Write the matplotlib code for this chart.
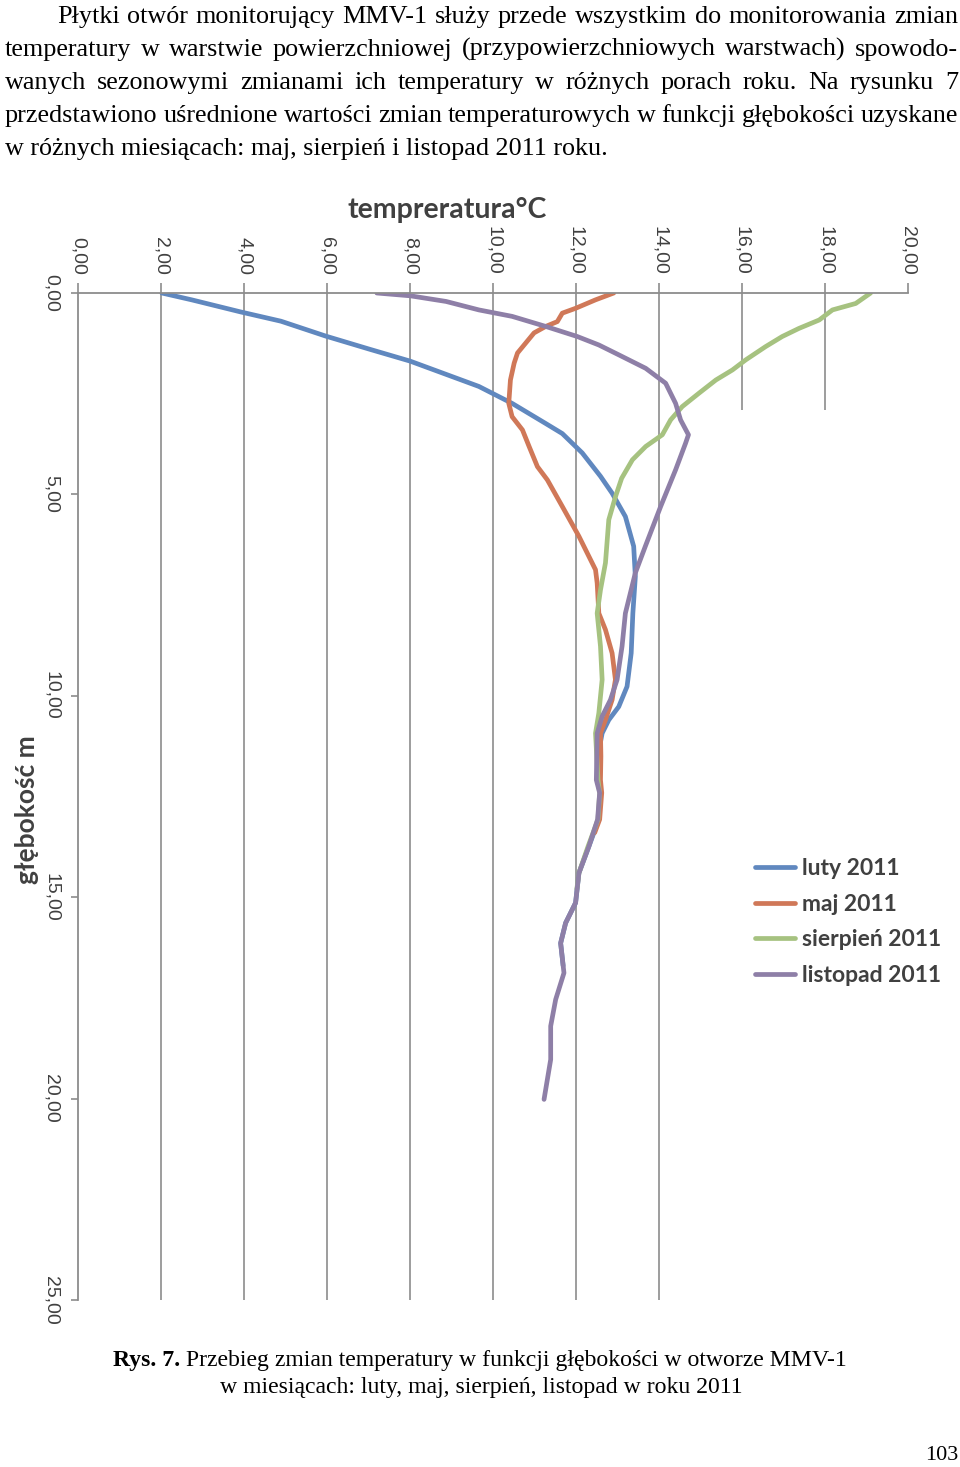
import numpy as np
import matplotlib
matplotlib.use('Agg')
import matplotlib.pyplot as plt

# depth [m] / temperature [C]
luty_depth = [0, 0.17, 0.47, 0.70, 1.07, 1.40, 1.69, 2.02, 2.32, 2.74, 3.24, 3.49, 3.97, 4.55, 4.97,
              5.55, 6.29, 7.04, 7.95, 8.94, 9.77, 10.27, 10.6, 10.93, 11.26, 12.09, 12.41, 13.07,
              13.74, 14.4, 15.14, 15.64, 16.14, 16.7]
luty_temp = [2.02, 2.74, 3.92, 4.89, 5.97, 7.04, 8.0, 8.87, 9.66, 10.46, 11.27, 11.67, 12.15, 12.59, 12.87,
             13.19, 13.39, 13.43, 13.37, 13.33, 13.23, 13.03, 12.79, 12.63, 12.57, 12.55, 12.59, 12.55,
             12.31, 12.07, 11.99, 11.75, 11.63, 11.69]

maj_depth = [0, 0.17, 0.38, 0.5, 0.71, 0.83, 0.99, 1.24, 1.49, 1.74, 2.16, 2.74, 3.07, 3.4, 3.81, 4.31,
             4.64, 5.3, 6.04, 6.87, 7.2, 7.95, 8.36, 8.94, 9.6, 10.1, 10.6, 10.93, 11.5, 12.09, 12.41,
             13.07, 13.4]
maj_temp = [12.91, 12.47, 11.99, 11.67, 11.55, 11.27, 10.99, 10.79, 10.59, 10.51, 10.42, 10.38, 10.46,
            10.71, 10.87, 11.07, 11.31, 11.67, 12.07, 12.47, 12.51, 12.55, 12.71, 12.87, 12.95, 12.87,
            12.71, 12.59, 12.6, 12.59, 12.62, 12.57, 12.45]

sierpien_depth = [0, 0.26, 0.42, 0.67, 0.88, 1.08, 1.33, 1.66, 1.91, 2.16, 2.49, 2.82, 3.15, 3.52, 3.81,
                  4.14, 4.6, 5.06, 5.63, 6.7, 7.37, 7.95, 8.77, 9.6, 10.43, 10.93, 11.5, 12.09, 12.41,
                  13.07, 13.74, 14.4, 14.8]
sierpien_temp = [19.1, 18.74, 18.18, 17.86, 17.37, 16.97, 16.57, 16.09, 15.77, 15.37, 14.96, 14.56, 14.28,
                 14.08, 13.68, 13.36, 13.1, 12.95, 12.79, 12.71, 12.59, 12.51, 12.59, 12.63, 12.55, 12.47,
                 12.5, 12.53, 12.57, 12.53, 12.29, 12.07, 12.02]

listopad_depth = [0, 0.07, 0.21, 0.42, 0.58, 0.83, 1.08, 1.29, 1.54, 1.87, 2.24, 2.74, 3.15, 3.52, 3.73,
                  4.39, 5.3, 6.29, 6.95, 7.45, 7.95, 8.77, 9.6, 10.1, 10.51, 10.93, 12.09, 12.41, 13.07,
                  13.74, 14.4, 15.14, 15.64, 16.14, 16.88, 17.54, 18.2, 19.03, 20.02]
listopad_temp = [7.2, 8.01, 8.87, 9.66, 10.46, 11.27, 12.03, 12.55, 13.04, 13.68, 14.16, 14.4, 14.52, 14.71,
                 14.64, 14.4, 14.04, 13.67, 13.43, 13.31, 13.19, 13.11, 12.99, 12.83, 12.63, 12.51, 12.49,
                 12.57, 12.52, 12.31, 12.07, 11.99, 11.75, 11.63, 11.71, 11.51, 11.39, 11.39, 11.23]

series_names = ['luty 2011', 'maj 2011', 'sierpień 2011', 'listopad 2011']
series_colors = ['#6088bf', '#d07858', '#a6c280', '#8e7fa7']

x_ticks = [0, 2, 4, 6, 8, 10, 12, 14, 16, 18, 20]
x_labels = ['0,00', '2,00', '4,00', '6,00', '8,00', '10,00', '12,00', '14,00', '16,00', '18,00', '20,00']
y_ticks = [0, 5, 10, 15, 20, 25]
y_labels = ['0,00', '5,00', '10,00', '15,00', '20,00', '25,00']

paragraph = [
    'Płytki otwór monitorujący MMV-1 służy przede wszystkim do monitorowania zmian',
    'temperatury w warstwie powierzchniowej (przypowierzchniowych warstwach) spowodo-',
    'wanych sezonowymi zmianami ich temperatury w różnych porach roku. Na rysunku 7',
    'przedstawiono uśrednione wartości zmian temperaturowych w funkcji głębokości uzyskane',
    'w różnych miesiącach: maj, sierpień i listopad 2011 roku.',
]
caption_bold = 'Rys. 7.'
caption_1 = ' Przebieg zmian temperatury w funkcji głębokości w otworze MMV-1'
caption_2 = 'w miesiącach: luty, maj, sierpień, listopad w roku 2011'

W, H = 960, 1467
fig = plt.figure(figsize=(9.6, 14.67), dpi=100)
renderer = fig.canvas.get_renderer()


def fx(px):
    return px / W


def fy(py):
    return 1 - py / H


serif = 'Liberation Serif'
text_size = 18.8

# paragraph, justified
line_x0 = [57, 5, 5, 5, 5]
base_y = [23, 56, 89, 122, 155]
for i, line in enumerate(paragraph):
    if i == len(paragraph) - 1:
        fig.text(fx(line_x0[i]), fy(base_y[i]), line, fontsize=text_size, family=serif, va='baseline')
        continue
    words = line.split(' ')
    texts = [fig.text(0, 0, w, fontsize=text_size, family=serif, va='baseline') for w in words]
    widths = [t.get_window_extent(renderer).width for t in texts]
    gap = (958 - line_x0[i] - sum(widths)) / (len(words) - 1)
    x = line_x0[i]
    for t, w in zip(texts, widths):
        t.set_position((fx(x), fy(base_y[i])))
        x += w + gap

# chart
ax = fig.add_axes([fx(78), fy(1300), fx(908) - fx(78), fy(293) - fy(1300)])
ax.vlines([2, 4, 6, 8, 10, 12, 14], 0, 25, colors='#8c8c8c', lw=1.2, zorder=0)
ax.vlines([16, 18], 0, 2.9, colors='#8c8c8c', lw=1.2, zorder=0)

all_temp = [luty_temp, maj_temp, sierpien_temp, listopad_temp]
all_depth = [luty_depth, maj_depth, sierpien_depth, listopad_depth]
for t, d, name, c in zip(all_temp, all_depth, series_names, series_colors):
    ax.plot(t, d, color=c, lw=3.4, label=name, solid_capstyle='round', solid_joinstyle='round')

ax.set_xlim(0, 20)
ax.set_ylim(25, 0)
ax.xaxis.tick_top()
ax.set_xticks(x_ticks)
ax.set_xticklabels(x_labels, rotation=-90, fontsize=14, family='Liberation Sans', color='#404040')
ax.set_yticks(y_ticks)
ax.set_yticklabels(y_labels, rotation=-90, fontsize=14, family='Liberation Sans', color='#404040', va='center')
ax.tick_params(axis='x', direction='out', length=7, width=1.2, color='#8c8c8c', pad=6)
ax.tick_params(axis='y', direction='out', length=5, width=1.2, color='#8c8c8c', pad=8)
for s in ['right', 'bottom']:
    ax.spines[s].set_visible(False)
for s in ['top', 'left']:
    ax.spines[s].set_color('#8c8c8c')
    ax.spines[s].set_linewidth(1.3)

fig.text(fx(447), fy(210), 'tempreratura°C', ha='center', va='center', fontsize=20.5,
         family='Lato', weight='bold', color='#404040')
fig.text(fx(27), fy(810), 'głębokość m', ha='center', va='center', rotation=90, fontsize=19,
         family='Lato', weight='bold', color='#404040')

ax.legend(loc='upper left', bbox_to_anchor=(fx(755), fy(858)), bbox_transform=fig.transFigure,
          frameon=False, borderaxespad=0, borderpad=0, handlelength=1.75, handletextpad=0.3,
          labelspacing=0.64, prop={'family': 'Lato', 'weight': 'bold', 'size': 16.5}, labelcolor='#404040')

# caption
cb = fig.text(0, 0, caption_bold, fontsize=16, family=serif, weight='bold', va='baseline')
cr = fig.text(0, 0, caption_1, fontsize=16, family=serif, va='baseline')
wb = cb.get_window_extent(renderer).width
wr = cr.get_window_extent(renderer).width
scale = 735 / (wb + wr)
cb.set_fontsize(16 * scale)
cr.set_fontsize(16 * scale)
wb = cb.get_window_extent(renderer).width
cb.set_position((fx(113), fy(1366)))
cr.set_position((fx(113 + wb), fy(1366)))
fig.text(fx(481), fy(1393), caption_2, fontsize=16 * scale, family=serif, ha='center', va='baseline')

fig.text(fx(958), fy(1456), '103', ha='right', va='center', fontsize=16, family=serif)

fig.savefig('out.png', dpi=100)
